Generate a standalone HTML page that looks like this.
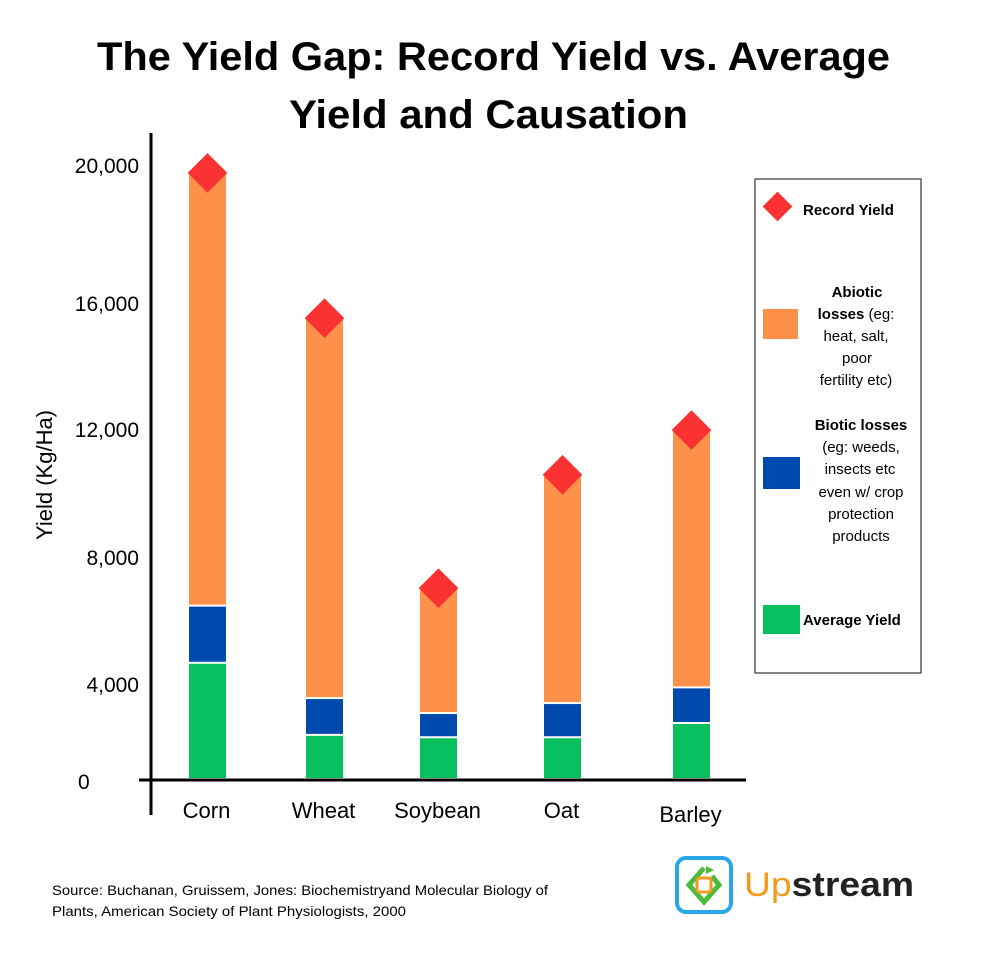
<!DOCTYPE html>
<html><head><meta charset="utf-8"><style>
body{margin:0;background:#fff;}
svg text{font-family:"Liberation Sans",sans-serif;}
</style></head><body>
<svg width="984" height="954" viewBox="0 0 984 954" xmlns="http://www.w3.org/2000/svg">
<rect width="984" height="954" fill="#fff"/>
<text x="97" y="70" textLength="793" lengthAdjust="spacingAndGlyphs" font-size="40" font-weight="bold" fill="#000">The Yield Gap: Record Yield vs. Average</text>
<text x="289" y="128" textLength="399" lengthAdjust="spacingAndGlyphs" font-size="40" font-weight="bold" fill="#000">Yield and Causation</text>
<text transform="translate(52,475) rotate(-90)" text-anchor="middle" font-size="22" fill="#000">Yield (Kg/Ha)</text>
<g id="ticks"></g>
<g id="bars"></g>
<line x1="139" y1="780" x2="746" y2="780" stroke="#000" stroke-width="3"/>
<line x1="151" y1="133" x2="151" y2="815" stroke="#000" stroke-width="3"/>
<g id="cats"></g>
<g>
<rect x="755" y="179" width="166" height="494" fill="#fff" stroke="#333" stroke-width="1.2"/>
<rect x="767" y="196" width="21" height="21" fill="#fa3232" transform="rotate(45 777.5 206.5)"/>
<text x="803" y="215" font-size="15" font-weight="bold">Record Yield</text>
<rect x="763" y="309" width="35" height="30" fill="#fd914a"/>
<text font-size="15" text-anchor="middle"><tspan x="857" y="297" font-weight="bold">Abiotic</tspan><tspan x="856" y="319"><tspan font-weight="bold">losses</tspan> (eg:</tspan><tspan x="856" y="341">heat, salt,</tspan><tspan x="857" y="363">poor</tspan><tspan x="856" y="385">fertility etc)</tspan></text>
<rect x="763" y="457" width="37" height="32" fill="#004aad"/>
<text font-size="15" text-anchor="middle"><tspan x="861" y="430" font-weight="bold">Biotic losses</tspan><tspan x="861" y="452">(eg: weeds,</tspan><tspan x="860" y="474">insects etc</tspan><tspan x="861" y="497">even w/ crop</tspan><tspan x="861" y="519">protection</tspan><tspan x="861" y="541">products</tspan></text>
<rect x="763" y="605" width="37" height="29" fill="#08bf5d"/>
<text x="803" y="625" font-size="15" font-weight="bold">Average Yield</text>
</g>
<text font-size="14" fill="#000"><tspan x="52" y="895" textLength="496" lengthAdjust="spacingAndGlyphs">Source: Buchanan, Gruissem, Jones: Biochemistryand Molecular Biology of</tspan><tspan x="52" y="916" textLength="354" lengthAdjust="spacingAndGlyphs">Plants, American Society of Plant Physiologists, 2000</tspan></text>
<g>
<rect x="677" y="858" width="54" height="54" rx="9" fill="#fff" stroke="#2aa7e6" stroke-width="4"/>
<path d="M704 868 L689 885 L704 902 L719 885 L712 876" fill="none" stroke="#4cbb3a" stroke-width="5"/>
<path d="M706 866 l8 4 l-8 4z" fill="#4cbb3a"/>
<rect x="697" y="878" width="14" height="14" rx="2" fill="#fff" stroke="#f29a1d" stroke-width="3"/>
<text x="744" y="896" font-size="34" textLength="170" lengthAdjust="spacingAndGlyphs"><tspan fill="#f29a1d">Up</tspan><tspan fill="#222" font-weight="bold">stream</tspan></text>
</g>
</svg>
<script>
const categories = ["Corn","Wheat","Soybean","Oat","Barley"];
const averageYield = [4700,1900,1800,1800,2400];
const bioticLosses = [1800,1550,1020,1440,1500];
const abioticLosses = [13300,12100,4230,7360,8100];
const recordYield = [19800,15550,7050,10600,12000];
const tickValues = [0,4000,8000,12000,16000,20000];
const tickLabels = ["0","4,000","8,000","12,000","16,000","20,000"];
const NS="http://www.w3.org/2000/svg";
// piecewise axis (hand-drawn spacing in original)
const tickPix=[780,685,558,430,304,166];
function y(v){
  for(let i=0;i<tickValues.length-1;i++){
    if(v<=tickValues[i+1]||i===tickValues.length-2){
      const t=(v-tickValues[i])/(tickValues[i+1]-tickValues[i]);
      return tickPix[i]+t*(tickPix[i+1]-tickPix[i]);
    }
  }
}
const xCenters=[207.5,324.5,438.5,562.5,691.5];
function x(i){return xCenters[i];}
const bw=37;
const tg=document.getElementById('ticks');
tickValues.forEach((v,i)=>{
  const t=document.createElementNS(NS,'text');
  
  
  if(v===0){t.setAttribute('x',78);t.setAttribute('text-anchor','start');}
  else{t.setAttribute('x',139);t.setAttribute('text-anchor','end');}
  t.setAttribute('y',y(v)+(v===0?9:7));
  t.setAttribute('font-size','21');
  t.textContent=tickLabels[i];
  tg.appendChild(t);
});
const bg=document.getElementById('bars');
function rect(x0,y0,y1,fill,name){
  const r=document.createElementNS(NS,'rect');
  
  
  r.setAttribute('x',x0);r.setAttribute('y',y1);
  r.setAttribute('width',bw);r.setAttribute('height',Math.max(0,y0-y1));
  r.setAttribute('fill',fill);bg.appendChild(r);
}
const cg=document.getElementById('cats');
categories.forEach((c,i)=>{
  const x0=x(i)-bw/2;
  const a=averageYield[i], b=a+bioticLosses[i], t=b+abioticLosses[i];
  rect(x0,y(0)-2,y(a)+1,'#08bf5d','bar-average-'+c.toLowerCase());
  rect(x0,y(a)-1,y(b)+1,'#004aad','bar-biotic-'+c.toLowerCase());
  rect(x0,y(b)-1,y(t),'#fd914a','bar-abiotic-'+c.toLowerCase());
  const d=document.createElementNS(NS,'rect');
  
  
  const cy=y(recordYield[i]);
  d.setAttribute('x',x(i)-14);d.setAttribute('y',cy-14);
  d.setAttribute('width',28);d.setAttribute('height',28);
  d.setAttribute('fill','#fa3232');
  d.setAttribute('transform','rotate(45 '+x(i)+' '+cy+')');
  bg.appendChild(d);
  const l=document.createElementNS(NS,'text');
  
  
  l.setAttribute('x',x(i)-1);l.setAttribute('y',c==='Barley'?822:818);
  l.setAttribute('text-anchor','middle');l.setAttribute('font-size','22');
  l.textContent=c;cg.appendChild(l);
});
</script>
</body></html>
